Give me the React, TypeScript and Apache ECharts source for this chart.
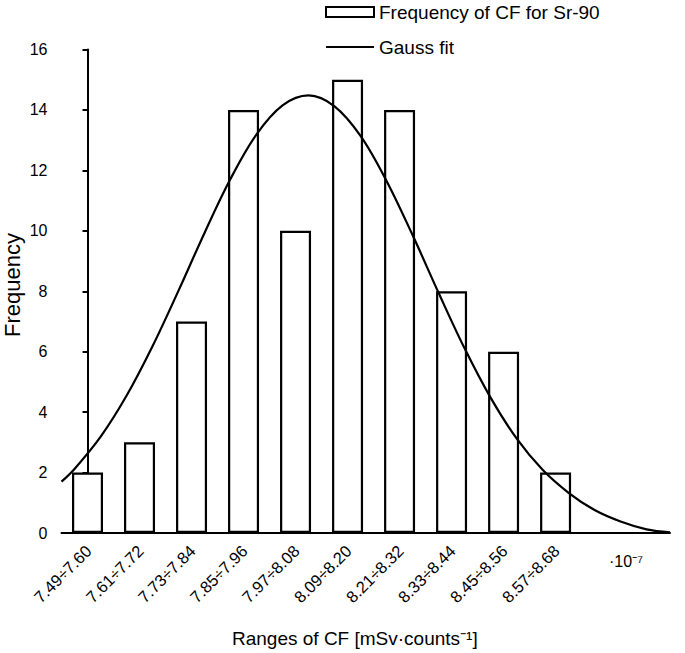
import React, { useEffect, useRef } from "react";
import * as echarts from "echarts";

const categories = [
  "7.49÷7.60",
  "7.61÷7.72",
  "7.73÷7.84",
  "7.85÷7.96",
  "7.97÷8.08",
  "8.09÷8.20",
  "8.21÷8.32",
  "8.33÷8.44",
  "8.45÷8.56",
  "8.57÷8.68",
];
const frequencies = [2, 3, 7, 14, 10, 15, 14, 8, 6, 2];

// Gauss fit curve (x in category-index units)
const gaussX = [
  -0.5, -0.25, 0.25, 0.75, 1.25, 1.75, 2.25, 2.75, 3.25, 3.75, 4.25, 4.75, 5.25,
  5.75, 6.25, 6.75, 7.25, 7.75, 8.25, 8.75, 9.25, 9.75, 10.25, 10.75, 11.2,
];
const gaussY = [
  1.7, 2.12, 3.18, 4.54, 6.18, 8.02, 9.93, 11.72, 13.19, 14.15, 14.48, 14.12,
  13.14, 11.65, 9.86, 7.95, 6.11, 4.48, 3.13, 2.09, 1.33, 0.76, 0.38, 0.12, 0.02,
];

const yTicks = { min: 0, max: 16, interval: 2 };
const seriesNames = ["Frequency of CF for Sr-90", "Gauss fit"];
const xTitle = "Ranges of CF [mSv·counts⁻¹]";
const yTitle = "Frequency";
const scaleNote = "·10⁻⁷";

const FONT = "'Liberation Sans', Arial, Helvetica, sans-serif";

export default function App() {
  const ref = useRef<HTMLDivElement>(null);

  useEffect(() => {
    if (!ref.current) return;
    const chart = echarts.init(ref.current, undefined, { renderer: "svg" });

    const barData = frequencies.map((v, i) => [i, v]);
    const curveData = gaussX.map((x, i) => [x, gaussY[i]]);

    chart.setOption({
      animation: false,
      backgroundColor: "#ffffff",
      textStyle: { fontFamily: FONT, color: "#000" },
      grid: { left: 61.5, top: 49.5, width: 608.5, height: 483.5 },
      legend: {
        orient: "vertical",
        left: 325,
        top: 2.5,
        padding: 0,
        itemWidth: 48,
        itemHeight: 10,
        itemGap: 16,
        textStyle: { fontSize: 19, color: "#000", fontFamily: FONT },
        data: [
          { name: seriesNames[0], icon: "rect" },
          { name: seriesNames[1], itemStyle: { opacity: 0 } },
        ],
      },
      xAxis: {
        type: "value",
        min: -0.5,
        max: 11.2,
        interval: 0.5,
        axisLine: { show: true, lineStyle: { color: "#000", width: 2 } },
        axisTick: { show: false },
        splitLine: { show: false },
        axisLabel: { show: false },
      },
      yAxis: {
        type: "value",
        min: yTicks.min,
        max: yTicks.max,
        interval: yTicks.interval,
        axisLine: { show: true, lineStyle: { color: "#000", width: 2 } },
        axisTick: {
          show: true,
          inside: false,
          length: 5,
          lineStyle: { color: "#000", width: 2 },
        },
        splitLine: { show: false },
        axisLabel: { fontSize: 16, color: "#000", margin: 14, fontFamily: FONT },
      },
      series: [
        {
          name: seriesNames[0],
          type: "bar",
          data: barData,
          barWidth: 31,
          itemStyle: { color: "#ffffff", borderColor: "#000", borderWidth: 2.2 },
          z: 2,
        },
        {
          name: seriesNames[1],
          type: "line",
          data: curveData,
          smooth: 0.35,
          symbol: "none",
          showSymbol: false,
          lineStyle: { color: "#000", width: 2.2 },
          itemStyle: { color: "#000" },
          z: 3,
        },
      ],
    });

    // Category labels, placed through the axis scale, rotated 45°
    const labelEls = categories.map((c, i) => {
      const p = chart.convertToPixel({ xAxisIndex: 0, yAxisIndex: 0 }, [i, 0]) as number[];
      return {
        type: "text",
        x: p[0] + 1,
        y: p[1] + 15,
        rotation: Math.PI / 4,
        style: {
          text: c,
          fontSize: 16.5,
          fill: "#000",
          fontFamily: FONT,
          align: "right",
          verticalAlign: "middle",
        },
      };
    });

    chart.setOption({
      graphic: [
        ...labelEls,
        {
          type: "text",
          left: 232,
          top: 629,
          style: {
            text: xTitle,
            fontSize: 19,
            fill: "#000",
            fontFamily: FONT,
          },
        },
        {
          type: "text",
          x: 12.5,
          y: 285,
          rotation: Math.PI / 2,
          style: {
            text: yTitle,
            fontSize: 22,
            fill: "#000",
            fontFamily: FONT,
            align: "center",
            verticalAlign: "middle",
          },
        },
        {
          type: "text",
          left: 609,
          top: 553,
          style: {
            text: scaleNote,
            fontSize: 16,
            fill: "#000",
            fontFamily: FONT,
          },
        },
      ],
    });

    return () => chart.dispose();
  }, []);

  return (
    <div
      ref={ref}
      style={{ position: "fixed", left: 0, top: 0, width: 685, height: 653, background: "#fff" }}
    />
  );
}
